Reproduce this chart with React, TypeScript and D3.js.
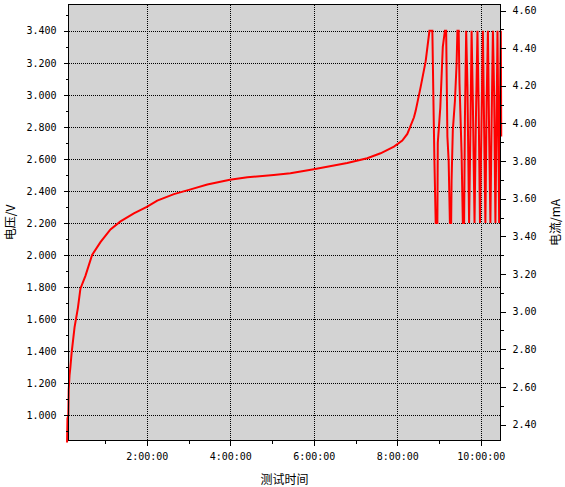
import React, { useEffect, useRef } from 'react';
import * as d3 from 'd3';

// test time in hours, cell voltage in V
const timeHours = [
  0.09, 0.10, 0.12, 0.13, 0.15, 0.17, 0.20, 0.27, 0.35, 0.41, 0.53, 0.69, 0.89,
  1.13, 1.37, 1.69, 2.00, 2.25, 2.65, 3.05, 3.45, 3.99, 4.41, 5.04, 5.44, 6.00,
  6.80, 7.28, 7.60, 7.92, 8.12, 8.24, 8.32, 8.40, 8.44, 8.56, 8.68, 8.77, 8.84,
  8.87, 8.89, 8.92, 8.96, 8.97, 9.03, 9.06, 9.09, 9.14, 9.17, 9.20, 9.23, 9.26,
  9.29, 9.30, 9.33, 9.38, 9.42, 9.44, 9.47, 9.49, 9.51, 9.54, 9.57, 9.60, 9.62,
  9.65, 9.68, 9.72, 9.75, 9.78, 9.81, 9.85, 9.88, 9.92, 9.95, 9.98, 10.01, 10.05,
  10.08, 10.11, 10.14, 10.17, 10.20, 10.23, 10.26, 10.29, 10.32, 10.35, 10.38,
  10.40, 10.42, 10.44, 10.46, 10.48, 10.49,
];
const voltage = [
  0.83, 0.98, 1.00, 1.16, 1.25, 1.30, 1.39, 1.55, 1.67, 1.79, 1.87, 2.00, 2.08,
  2.16, 2.21, 2.26, 2.30, 2.34, 2.38, 2.41, 2.44, 2.47, 2.485, 2.50, 2.51, 2.535,
  2.575, 2.604, 2.635, 2.677, 2.714, 2.756, 2.808, 2.86, 2.90, 3.05, 3.21, 3.40, 3.40,
  2.89, 2.58, 2.20, 2.20, 2.70, 2.92, 3.11, 3.30, 3.40, 3.40, 2.74, 2.59, 2.20,
  2.20, 2.46, 2.78, 2.96, 3.19, 3.40, 3.40, 3.07, 2.90, 2.63, 2.20, 2.20, 2.85,
  3.40, 3.05, 2.20, 2.75, 3.40, 2.95, 2.20, 2.80, 3.40, 2.90, 2.20, 2.70, 3.40,
  2.80, 2.20, 2.95, 3.40, 2.75, 2.20, 2.85, 3.40, 3.00, 2.20, 2.90,
  3.40, 2.80, 2.20, 2.95, 3.40, 2.74,
];

const voltTicks = [1.0, 1.2, 1.4, 1.6, 1.8, 2.0, 2.2, 2.4, 2.6, 2.8, 3.0, 3.2, 3.4];
const voltMinor = [0.9, 1.1, 1.3, 1.5, 1.7, 1.9, 2.1, 2.3, 2.5, 2.7, 2.9, 3.1, 3.3, 3.5];
const currentTicks = [2.4, 2.6, 2.8, 3.0, 3.2, 3.4, 3.6, 3.8, 4.0, 4.2, 4.4, 4.6];
const currentMinor = [2.5, 2.7, 2.9, 3.1, 3.3, 3.5, 3.7, 3.9, 4.1, 4.3, 4.5];
const hourTicks = [2, 4, 6, 8, 10];
const hourMinor = [1, 3, 5, 7, 9];

const W = 565;
const H = 487;
const MONO = '"DejaVu Sans Mono", monospace';
const CJK = '"Noto Sans CJK SC", sans-serif';

const App = () => {
  const svgRef = useRef(null);

  useEffect(() => {
    const left = 68.5, right = 500.5, top = 4.5, bottom = 440.5;

    const x = d3.scaleLinear().domain([0.1246, 10.472]).range([left, right]);
    const yV = d3.scaleLinear().domain([0.842, 3.564]).range([bottom, top]);
    const yI = d3.scaleLinear().domain([2.315, 4.632]).range([bottom, top]);

    const svg = d3.select(svgRef.current);
    svg.selectAll('*').remove();

    svg.append('rect')
      .attr('x', left).attr('y', top)
      .attr('width', right - left).attr('height', bottom - top)
      .attr('fill', '#d3d3d3');

    // dotted grid, 1px dots
    const grid = svg.append('g')
      .attr('stroke', '#000')
      .attr('stroke-width', 1)
      .attr('shape-rendering', 'crispEdges')
      .attr('stroke-dasharray', '1,1');
    grid.selectAll('.gh').data(voltTicks).enter().append('line')
      .attr('x1', left).attr('x2', right)
      .attr('y1', d => Math.round(yV(d)) + 0.5)
      .attr('y2', d => Math.round(yV(d)) + 0.5);
    grid.selectAll('.gv').data(hourTicks).enter().append('line')
      .attr('y1', top).attr('y2', bottom)
      .attr('x1', d => Math.round(x(d)) + 0.5)
      .attr('x2', d => Math.round(x(d)) + 0.5);

    const pts = timeHours.map((t, i) => [t, voltage[i]]);
    const line = d3.line()
      .x(d => x(d[0]))
      .y(d => yV(d[1]));

    svg.append('path')
      .datum(pts)
      .attr('fill', 'none')
      .attr('stroke', '#ff0000')
      .attr('stroke-width', 2)
      .attr('stroke-linejoin', 'miter')
      .attr('d', line);

    // frame
    svg.append('rect')
      .attr('x', left).attr('y', top)
      .attr('width', right - left).attr('height', bottom - top)
      .attr('fill', 'none')
      .attr('stroke', '#000')
      .attr('shape-rendering', 'crispEdges')
      .attr('stroke-width', 1);

    const styleAxis = g => {
      g.select('.domain').remove();
      g.selectAll('line').attr('stroke', '#000').attr('shape-rendering', 'crispEdges');
      g.selectAll('text')
        .attr('fill', '#000')
        .style('font-family', MONO)
        .style('font-size', '10px');
    };

    svg.append('g')
      .attr('transform', `translate(${left},0)`)
      .call(d3.axisLeft(yV).tickValues(voltTicks).tickSize(5).tickSizeOuter(0)
        .tickPadding(7).tickFormat(d3.format('.3f')))
      .call(styleAxis);
    svg.append('g')
      .attr('transform', `translate(${left},0)`)
      .call(d3.axisLeft(yV).tickValues(voltMinor).tickSize(3).tickSizeOuter(0).tickFormat(() => ''))
      .call(styleAxis);

    svg.append('g')
      .attr('transform', `translate(${right},0)`)
      .call(d3.axisRight(yI).tickValues(currentTicks).tickSize(5).tickSizeOuter(0)
        .tickPadding(7).tickFormat(d3.format('.2f')))
      .call(styleAxis);
    svg.append('g')
      .attr('transform', `translate(${right},0)`)
      .call(d3.axisRight(yI).tickValues(currentMinor).tickSize(3).tickSizeOuter(0).tickFormat(() => ''))
      .call(styleAxis);

    svg.append('g')
      .attr('transform', `translate(0,${bottom})`)
      .call(d3.axisBottom(x).tickValues(hourTicks).tickSize(5).tickSizeOuter(0)
        .tickPadding(7).tickFormat(d => `${d}:00:00`))
      .call(styleAxis);
    svg.append('g')
      .attr('transform', `translate(0,${bottom})`)
      .call(d3.axisBottom(x).tickValues(hourMinor).tickSize(3).tickSizeOuter(0).tickFormat(() => ''))
      .call(styleAxis);

    const midY = (top + bottom) / 2;

    svg.append('text')
      .attr('transform', `translate(15,${midY}) rotate(-90)`)
      .attr('text-anchor', 'middle')
      .style('font-family', CJK)
      .style('font-size', '12px')
      .text('电压/V');

    svg.append('text')
      .attr('transform', `translate(560,${midY}) rotate(-90)`)
      .attr('text-anchor', 'middle')
      .style('font-family', CJK)
      .style('font-size', '12px')
      .text('电流/mA');

    svg.append('text')
      .attr('x', (left + right) / 2)
      .attr('y', 484)
      .attr('text-anchor', 'middle')
      .style('font-family', CJK)
      .style('font-size', '12px')
      .text('测试时间');
  }, []);

  return (
    <svg
      ref={svgRef}
      width={W}
      height={H}
      style={{ position: 'absolute', left: 0, top: 0, background: '#fff' }}
    ></svg>
  );
};

export default App;
